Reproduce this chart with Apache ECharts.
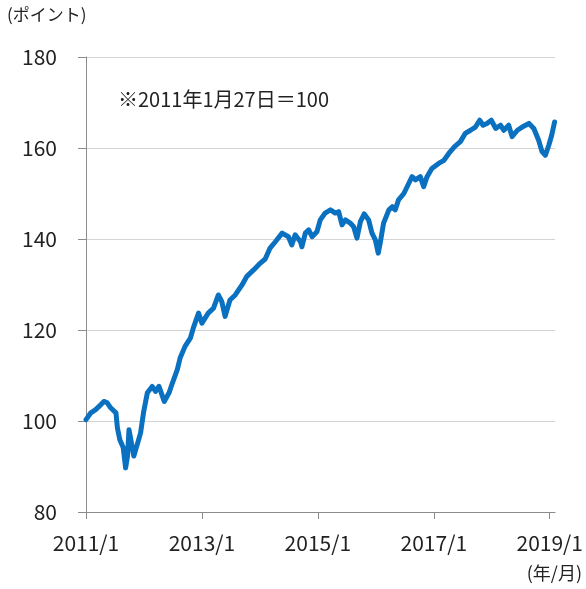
<!DOCTYPE html>
<html>
<head>
<meta charset="utf-8">
<script src="https://cdn.jsdelivr.net/npm/echarts@6/dist/echarts.min.js"></script>
<style>
  html, body { margin: 0; padding: 0; background: #fff; }
  #chart { width: 586px; height: 589px; }
</style>
</head>
<body>
<div id="chart"></div>
<script>
// months elapsed since 2011/1 (x position)
const months = [
  0, 1, 2, 2.7, 3.7, 4.4, 5.1, 6.2, 6.5, 7, 7.7, 8.2, 8.6, 8.9, 9.6, 9.9, 10.6, 11.3, 11.9,
  12.7, 13.7, 14.4, 15.1, 16.2, 17.2, 17.9, 18.9, 19.5, 20.5, 21.6, 22.2, 23.3, 24,
  25.3, 26.4, 27.4, 28.1, 28.8, 29.8, 30.9, 32.3, 33.3, 34.7, 36.1, 37.1, 38.1, 39.2,
  40.6, 41.9, 42.6, 43.3, 44.4, 44.7, 45.4, 46.1, 46.8, 47.8, 48.5, 49.5, 50.6, 51.6,
  52.3, 53, 53.7, 54.7, 55.4, 56.1, 56.8, 57.6, 58.5, 59.2, 59.9, 60.5, 60.9, 61.6,
  62.7, 63.4, 64, 64.7, 65.8, 66.8, 67.5, 68.2, 69.2, 69.9, 70.6, 71.6, 73, 74.1, 75.1,
  76.3, 77.5, 78.5, 79.6, 80.6, 81.5, 82.2, 83, 83.9, 84.8, 85.8, 86.5, 87.5, 88.2,
  89.3, 90.3, 91.7, 92.7, 93.7, 94.4, 95.1, 95.8, 96.4, 97.0
];
// index level (2011/1/27 = 100)
const indexValues = [
  100.3, 101.8, 102.5, 103.2, 104.3, 104.0, 102.9, 101.8, 98.5, 95.9, 94.2, 89.7, 92.3, 98.1, 94.1, 92.3, 94.8, 97.4, 101.8,
  106.2, 107.6, 106.5, 107.6, 104.3, 106.2, 108.4, 111.3, 113.9, 116.4, 118.2, 120.4, 123.7, 121.5,
  123.7, 124.8, 127.7, 126.3, 123.0, 126.6, 127.7, 129.9, 131.8, 133.2, 134.7, 135.6, 138.0, 139.4,
  141.3, 140.5, 138.7, 140.9, 139.4, 138.3, 141.3, 142.0, 140.5, 141.6, 144.2, 145.7, 146.4, 145.7,
  146.0, 143.1, 144.2, 143.5, 142.7, 140.2, 143.8, 145.5, 144.2, 141.3, 139.8, 136.9, 139.1, 143.5,
  146.4, 147.1, 146.4, 148.6, 150.0, 152.2, 153.7, 153.0, 153.7, 151.5, 153.7, 155.5, 156.6, 157.3, 158.8,
  160.3, 161.4, 163.2, 163.9, 164.6, 166.1, 165.0, 165.4, 166.1, 164.3, 165.0, 163.9, 165.0, 162.5,
  163.9, 164.6, 165.4, 164.3, 161.7, 159.2, 158.4, 160.6, 162.8, 165.7
];
const yTicks = [80, 100, 120, 140, 160, 180];

const font = '"Noto Sans CJK JP", "Noto Sans", sans-serif';
const chart = echarts.init(document.getElementById('chart'));

chart.setOption({
  backgroundColor: '#fff',
  animation: false,
  grid: { left: 86, right: 30, top: 57, bottom: 77 },
  graphic: [
    { type: 'text', left: 7, top: 6, style: { text: '(ポイント)', font: '17px ' + font, fill: '#222' } },
    { type: 'text', left: 118, top: 89, style: { text: '※2011年1月27日＝100', font: '20px ' + font, fill: '#222' } },
    { type: 'text', right: 4, top: 564, style: { text: '(年/月)', font: '18px ' + font, fill: '#222' } }
  ],
  xAxis: {
    type: 'value',
    min: 0,
    max: 97.1,
    interval: 24,
    axisLine: { show: true, lineStyle: { color: '#8c8c8c', width: 1 } },
    axisTick: { show: true, length: 7, lineStyle: { color: '#8c8c8c' } },
    splitLine: { show: false },
    axisLabel: {
      margin: 21,
      fontSize: 21,
      fontFamily: font,
      color: '#222',
      showMaxLabel: false,
      formatter: v => (2011 + v / 12) + '/1'
    }
  },
  yAxis: {
    type: 'value',
    min: yTicks[0],
    max: yTicks[yTicks.length - 1],
    interval: 20,
    axisLine: { show: true, lineStyle: { color: '#8c8c8c', width: 1 } },
    axisTick: { show: true, length: 8, lineStyle: { color: '#8c8c8c' } },
    splitLine: { show: true, lineStyle: { color: '#d4d4d4', width: 1 } },
    axisLabel: { margin: 29, fontSize: 21, fontFamily: font, color: '#222' }
  },
  series: [{
    type: 'line',
    data: months.map((m, i) => [m, indexValues[i]]),
    showSymbol: false,
    lineStyle: { color: '#0a70c0', width: 5, join: 'round', cap: 'round' },
    itemStyle: { color: '#0a70c0' }
  }]
});
</script>
</body>
</html>
